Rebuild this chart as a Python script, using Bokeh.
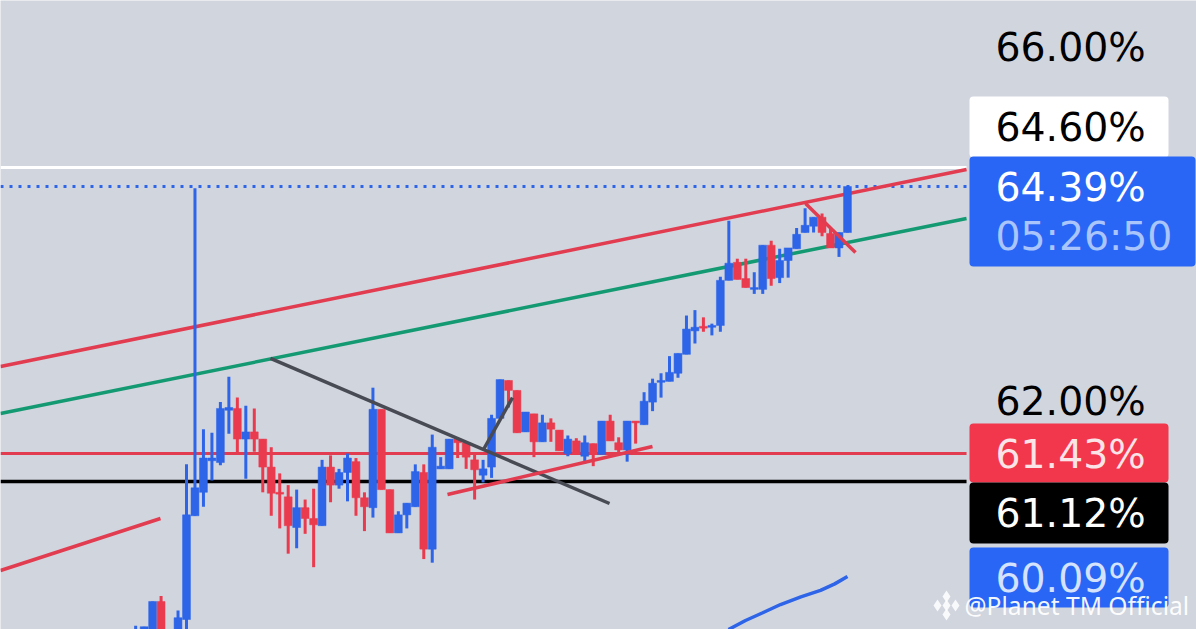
from bokeh.plotting import figure
from bokeh.models import Range1d
from bokeh.core.properties import value
from bokeh.embed import file_html
from bokeh.resources import INLINE

# ---- candles, in percent ----
opens = [59.38,59.40,59.40,59.79,59.30,59.44,59.59,60.74,61.00,61.35,61.33,61.91,61.93,61.59,61.67,61.59,61.28,61.00,60.95,60.61,
         60.83,60.71,60.63,61.28,61.08,61.22,61.34,60.94,60.83,61.92,61.03,60.55,60.75,60.84,61.22,60.37,61.26,61.26,61.59,61.55,
         61.36,61.19,61.28,61.82,62.24,62.13,61.67,61.87,61.56,61.77,61.69,61.43,61.57,61.40,61.54,61.42,61.79,61.55,61.47,61.79,
         61.75,62.00,62.22,62.23,62.32,62.53,62.79,62.84,62.83,62.85,63.35,63.55,63.37,63.25,63.25,63.74,63.38,63.57,63.70,63.88,
         63.95,64.05,63.87,63.71,63.88]
highs = [59.52,59.51,59.79,59.85,59.44,59.69,61.31,64.37,61.70,61.66,62.00,62.28,62.05,61.96,61.93,61.59,61.50,61.21,61.08,61.03,
         60.92,61.04,61.36,61.41,61.26,61.43,61.38,61.00,62.16,61.92,61.03,60.79,60.88,61.31,61.31,61.64,61.39,61.59,61.59,61.55,
         61.42,61.36,61.86,62.25,62.24,62.13,61.89,61.87,61.86,61.82,61.69,61.63,61.60,61.63,61.54,61.79,61.86,61.61,61.79,61.79,
         62.11,62.26,62.32,62.51,62.54,62.96,63.02,62.94,62.87,63.39,64.01,63.59,63.59,63.44,63.74,63.79,63.70,63.71,63.93,64.15,
         64.05,64.09,63.94,63.88,64.39]
lows = [59.35,59.38,59.38,59.40,59.28,59.40,59.45,60.74,60.84,61.13,61.30,61.65,61.43,61.15,61.45,61.00,60.74,60.60,60.32,60.38,
        60.54,60.17,60.63,60.89,61.04,60.90,60.74,60.57,60.72,61.03,60.55,60.55,60.60,60.84,60.26,60.22,61.26,61.26,61.38,61.26,
        60.92,61.11,61.16,61.82,61.94,61.66,61.67,61.39,61.56,61.56,61.46,61.40,61.42,61.32,61.29,61.42,61.57,61.43,61.34,61.54,
        61.75,61.90,62.05,62.23,62.27,62.53,62.65,62.78,62.74,62.78,63.35,63.36,63.27,63.20,63.20,63.29,63.32,63.38,63.70,63.88,
        63.88,63.84,63.71,63.61,63.88]
closes = [59.44,59.51,59.79,59.45,59.42,59.61,60.75,61.05,61.38,61.38,61.93,61.94,61.59,61.67,61.59,61.28,60.99,60.98,60.63,60.83,
          60.71,60.64,61.28,61.08,61.22,61.38,60.94,60.84,61.92,61.03,60.55,60.75,60.88,61.23,60.37,61.50,61.29,61.59,61.55,61.39,
          61.25,61.26,61.82,62.25,62.13,61.66,61.89,61.56,61.77,61.70,61.46,61.59,61.42,61.55,61.42,61.79,61.57,61.47,61.79,61.77,
          62.01,62.21,62.24,62.33,62.54,62.81,62.83,62.82,62.85,63.35,63.54,63.36,63.27,63.27,63.74,63.37,63.57,63.71,63.86,63.96,
          64.05,63.88,63.71,63.88,64.39]
bars = list(range(len(opens)))

# ---- horizontal levels, in percent ----
level_white = 64.60
level_last = 64.39
level_red = 61.43
level_black = 61.12

# ---- drawn lines: bar number and percent ----
red_long_x, red_long_y = [-15.95, 98.05], [62.395, 64.579]
green_x, green_y = [-15.95, 98.05], [61.874, 64.036]
red_left_x, red_left_y = [-15.95, 2.93], [60.133, 60.71]
gray_long_x, gray_long_y = [15.91, 55.92], [62.484, 60.876]
gray_short_x, gray_short_y = [41.05, 44.47], [61.475, 62.051]
red_low_x, red_low_y = [36.8, 60.99], [60.976, 61.508]
red_small_x, red_small_y = [79.05, 84.95], [64.202, 63.659]
blue_x = [69.96, 71.97, 74.0, 76.1, 78.5, 80.82, 82.5, 84.0]
blue_y = [59.479, 59.579, 59.665, 59.756, 59.84, 59.912, 59.985, 60.067]
line_end = 98.05

# ---- right-hand labels ----
tick_66, tick_62 = "66.00%", "62.00%"
tag_white, tag_last, tag_timer = "64.60%", "64.39%", "05:26:50"
tag_red, tag_black, tag_blue = "61.43%", "61.12%", "60.09%"
watermark = "@Planet TM Official"

BG = "#d1d5de"
BLUE = "#2d64e8"
RED = "#ea3b4e"
LINE_RED = "#e23c50"
GRAY = "#484a54"
FONT = "DejaVu Sans"

# page pixel -> data helpers, used only for the price-scale boxes and labels
PX = 8.474
def xp(px):
    return (px - 186) / PX + 6
def yp(py):
    return 61.12 + (481 - py) / 90.2

p = figure(width=1196, height=629, output_backend="svg", toolbar_location=None,
           x_range=Range1d(xp(0), xp(1196)), y_range=Range1d(yp(629), yp(0)),
           min_border=0, outline_line_color=None,
           background_fill_color=BG, border_fill_color=BG)
p.axis.visible = False
p.grid.visible = False

# lines under the candles
p.line([xp(0), line_end], [level_white] * 2, line_color="white", line_width=3)
p.line([xp(0), line_end], [level_last] * 2, line_color=BLUE, line_width=3, line_dash="3 6")
p.line([xp(0), line_end], [level_red] * 2, line_color=LINE_RED, line_width=3)
p.line([xp(0), line_end], [level_black] * 2, line_color="black", line_width=3.5)
p.line(red_long_x, red_long_y, line_color=LINE_RED, line_width=3.5)
p.line(green_x, green_y, line_color="#149a72", line_width=3.5)
p.line(red_left_x, red_left_y, line_color=LINE_RED, line_width=3.5)
p.line(blue_x, blue_y, line_color=BLUE, line_width=3.5)

# candles
colors = [BLUE if c >= o else RED for o, c in zip(opens, closes)]
p.segment(bars, lows, bars, highs, line_color=colors, line_width=3)
p.vbar(x=bars, width=0.93, bottom=[min(o, c) for o, c in zip(opens, closes)],
       top=[max(o, c) for o, c in zip(opens, closes)],
       fill_color=colors, line_color=colors, line_width=0.5)

# lines over the candles
p.line(gray_long_x, gray_long_y, line_color=GRAY, line_width=3.5)
p.line(gray_short_x, gray_short_y, line_color=GRAY, line_width=3.5)
p.line(red_low_x, red_low_y, line_color=LINE_RED, line_width=3.5)
p.line(red_small_x, red_small_y, line_color=LINE_RED, line_width=3.5)

# price-scale boxes
p.quad(left=xp(969), right=xp(1168), top=yp(96), bottom=yp(157), fill_color="white", line_color=None, border_radius=4)
p.quad(left=xp(969), right=xp(1168), top=yp(423), bottom=yp(482), fill_color="#f2364b", line_color=None, border_radius=4)
p.quad(left=xp(969), right=xp(1168), top=yp(482), bottom=yp(543), fill_color="black", line_color=None, border_radius=4)
p.quad(left=xp(969), right=xp(1168), top=yp(547), bottom=yp(607), fill_color="#2966f5", line_color=None, border_radius=4)
p.quad(left=xp(969), right=xp(1195), top=yp(156), bottom=yp(266), fill_color="#2966f5", line_color=None, border_radius=4)

def label(txt, py, color, px=995):
    p.text([xp(px)], [yp(py)], text=[txt], text_color=color, text_font=value(FONT),
           text_font_size="39.4px", text_align="left", text_baseline="middle")

label(tick_66, 46, "black")
label(tag_white, 126, "black")
label(tag_last, 186, "white")
label(tag_timer, 235, "#a9c5fb")
label(tick_62, 400, "black")
label(tag_red, 453, "#fbe4e7")
label(tag_black, 512, "white")
label(tag_blue, 577, "#d5e2fd")

# watermark
p.text([xp(964)], [yp(605)], text=[watermark], text_color="white", text_alpha=0.95,
       text_font=value("Noto Sans"), text_font_size="24.6px", text_align="left", text_baseline="middle")
p.scatter([xp(946), xp(937), xp(955), xp(946), xp(946)], [yp(596), yp(605), yp(605), yp(614), yp(605)],
          marker="diamond", size=12, fill_color="white", fill_alpha=0.85, line_color=None)

open("out.html", "w").write(file_html(p, INLINE))
